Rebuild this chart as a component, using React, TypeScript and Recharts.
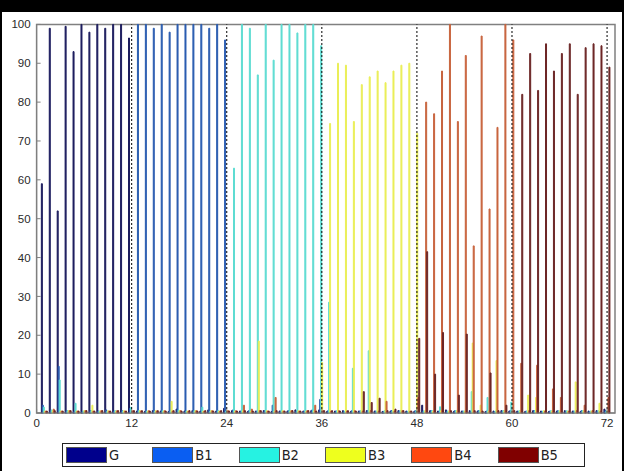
import { BarChart, Bar, XAxis, YAxis, ReferenceLine, ReferenceArea } from 'recharts';

// group numbers 1..72 along the x axis
const groups = Array.from({ length: 72 }, (_, i) => i + 1);

const seriesNames = ['G', 'B1', 'B2', 'B3', 'B4', 'B5'];

// G dominates groups 1-12, B1 13-24, B2 25-36, B3 37-48, B4 49-60, B5 61-72
const gValues = [
  59, 99, 52, 99.5, 93, 100, 98, 100, 99, 100, 100, 96.5,
  0.5, 0.4, 0.6, 0.5, 0.4, 1, 0.5, 0.6, 0.5, 0.8, 0.5, 1.2,
  0.6, 0.5, 0.4, 0.5, 0.6, 0.4, 0.5, 0.5, 0.8, 0.5, 0.6, 0.8,
  0.4, 0.5, 0.6, 0.4, 0.5, 0.6, 0.5, 0.4, 0.5, 0.6, 0.5, 0.4,
  2, 0.6, 0.5, 0.8, 0.4, 0.5, 0.6, 0.5, 0.4, 0.5, 0.6, 0.5,
  0.5, 0.4, 0.6, 0.5, 0.4, 0.5, 0.6, 0.5, 0.4, 0.5, 0.6, 1,
];
const b1Values = [
  2, 0.5, 12, 0.6, 0.5, 0.4, 0.6, 0.5, 0.8, 0.5, 0.6, 1.2,
  100, 100, 99, 100, 98, 100, 100, 100, 100, 99, 100, 96,
  0.8, 0.5, 0.6, 0.5, 0.6, 2, 0.5, 0.6, 0.5, 0.5, 0.8, 3.5,
  0.6, 0.5, 0.4, 0.6, 0.5, 0.6, 0.5, 0.4, 0.6, 0.5, 0.4, 0.6,
  0.5, 0.6, 0.4, 0.5, 0.6, 0.5, 0.4, 0.6, 0.5, 0.4, 0.5, 0.6,
  0.4, 0.5, 0.6, 0.4, 0.5, 0.6, 0.4, 0.5, 0.6, 0.4, 0.5, 0.6,
];
const b2Values = [
  1.5, 0.8, 8.5, 0.6, 2.5, 0.5, 0.6, 0.5, 0.4, 0.6, 0.5, 1.5,
  0.6, 0.5, 0.4, 0.6, 0.5, 0.8, 0.5, 0.6, 1.5, 0.5, 0.6, 0.5,
  63, 100, 99, 87, 100, 90.8, 100, 100, 97.8, 100, 100, 94.5,
  28.5, 0.6, 0.5, 11.5, 0.6, 16, 0.5, 0.6, 0.5, 0.6, 0.5, 0.6,
  0.5, 0.6, 1.6, 0.5, 0.6, 0.5, 5.5, 0.6, 4, 0.5, 0.6, 2.8,
  0.6, 0.5, 0.6, 0.5, 0.6, 0.5, 0.6, 0.5, 0.6, 0.5, 0.6, 0.5,
];
const b3Values = [
  0.5, 0.6, 0.5, 0.6, 0.5, 0.6, 2, 0.5, 0.6, 0.5, 0.6, 0.5,
  0.6, 0.5, 0.6, 0.5, 3, 0.6, 0.5, 0.6, 0.5, 0.6, 0.5, 0.6,
  0.5, 0.6, 0.5, 18.5, 0.6, 0.5, 0.6, 0.5, 0.6, 0.5, 0.6, 13,
  74.5, 90, 89.5, 75, 84.5, 86.5, 88, 85, 88, 89.5, 90, 72,
  0.6, 0.5, 0.6, 0.5, 0.6, 0.5, 18, 2, 0.5, 13.5, 0.6, 0.5,
  0.6, 4.6, 4, 0.6, 0.5, 0.6, 0.5, 8, 0.6, 0.5, 2.5, 0.6,
];
const b4Values = [
  0.5, 1, 0.5, 0.6, 0.5, 0.6, 0.5, 0.6, 0.5, 0.6, 0.5, 0.6,
  0.5, 0.6, 0.5, 0.6, 0.5, 0.6, 0.5, 0.6, 0.5, 0.6, 0.5, 0.6,
  0.6, 2, 1, 0.6, 0.5, 4, 0.5, 0.6, 0.5, 0.6, 2, 0.6,
  0.5, 0.6, 0.5, 0.6, 0.5, 0.6, 0.5, 3, 0.5, 0.6, 0.5, 4,
  80, 77, 88, 100, 75, 92, 43, 97, 52.5, 73.5, 100, 96,
  12.8, 0.6, 12.3, 0.5, 6.2, 4, 0.5, 0.6, 2, 0.6, 0.5, 4,
];
const b5Values = [
  0.5, 0.6, 0.5, 0.6, 0.5, 0.6, 0.5, 0.6, 0.5, 0.6, 0.5, 0.6,
  0.6, 0.5, 0.6, 0.5, 0.6, 0.5, 0.6, 0.5, 0.6, 0.5, 0.6, 0.5,
  0.5, 0.6, 0.5, 0.6, 0.5, 0.6, 0.5, 0.6, 0.5, 0.6, 0.5, 0.6,
  0.6, 0.5, 0.6, 0.5, 5.5, 2.7, 3.8, 0.6, 1, 0.6, 0.5, 19.2,
  41.5, 10, 20.7, 0.6, 4.6, 20.3, 0.6, 0.5, 10.3, 0.6, 2, 0.6,
  82, 92.5, 83, 95, 88, 92.5, 95, 82, 94, 95, 94.5, 89,
];

const xTicks = [0, 12, 24, 36, 48, 60, 72];
const yTicks = [0, 10, 20, 30, 40, 50, 60, 70, 80, 90, 100];
const dividers = [12, 24, 36, 48, 60, 72];

// thin bars look darker/lighter than the legend swatches in the original
const barColors = ['#1c1c5e', '#2a5cb0', '#5edcd2', '#eaee58', '#c8643e', '#6c2626'];
const legendColors = ['#00008c', '#0a5ef2', '#26f2e2', '#eeff1e', '#ff4810', '#800000'];

const allValues = [gValues, b1Values, b2Values, b3Values, b4Values, b5Values];

const data = groups.map((g, i) => {
  const row: Record<string, number> = { x: g };
  seriesNames.forEach((name, s) => {
    row[name] = allValues[s][i];
  });
  return row;
});

const tickStyle = { fill: '#2a2a2a', fontSize: 11.5, fontFamily: 'Liberation Sans, Arial, sans-serif' };

const App = () => {
  return (
    <div style={{ position: 'absolute', left: 0, top: 0, width: 624, height: 471, background: '#fff' }}>
      <BarChart
        width={624}
        height={440}
        data={data}
        margin={{ top: 24.4, right: 9, left: 6.6, bottom: 7 }}
        barGap={0}
        barCategoryGap="10%"
      >
        <XAxis
          dataKey="x"
          type="number"
          domain={[0, 73]}
          ticks={xTicks}
          interval={0}
          allowDataOverflow
          tickSize={-4}
          tickMargin={10}
          height={20}
          stroke="#7f7f7f"
          tick={tickStyle}
        />
        <YAxis
          domain={[0, 100]}
          ticks={yTicks}
          interval={0}
          tickSize={-4}
          tickMargin={10}
          width={30}
          stroke="#7f7f7f"
          tick={tickStyle}
        />
        <YAxis
          yAxisId="right"
          orientation="right"
          domain={[0, 100]}
          ticks={yTicks}
          interval={0}
          tickSize={-4}
          width={0}
          stroke="#7f7f7f"
          tickFormatter={() => ''}
        />
        {seriesNames.map((name, s) => (
          <Bar
            key={name}
            dataKey={name}
            fill={barColors[s]}
            stroke={barColors[s]}
            strokeWidth={1}
            isAnimationActive={false}
          />
        ))}
        {dividers.map((d) => (
          <ReferenceLine key={d} x={d} stroke="#000" strokeDasharray="2 2" strokeWidth={1} />
        ))}
        <ReferenceArea x1={0} x2={73} y1={0} y2={100} fill="none" stroke="#808080" strokeWidth={1.5} />
      </BarChart>
      <div
        style={{
          position: 'absolute',
          left: 62,
          top: 443,
          width: 523,
          height: 24,
          border: '1px solid #222',
          boxSizing: 'border-box',
          display: 'flex',
          alignItems: 'center',
          paddingLeft: 3,
          fontFamily: 'DejaVu Sans Condensed, Liberation Sans Narrow, sans-serif',
          fontSize: 14.5,
          color: '#222',
        }}
      >
        {seriesNames.map((name, s) => (
          <div key={name} style={{ width: 87.5, display: 'flex', alignItems: 'center' }}>
            <div
              style={{
                width: 41,
                height: 16,
                background: legendColors[s],
                border: '1px solid #555',
                boxSizing: 'border-box',
                marginRight: 2,
              }}
            />
            <span>{name}</span>
          </div>
        ))}
      </div>
      <div
        style={{
          position: 'absolute',
          left: 0,
          top: 0,
          width: 624,
          height: 471,
          boxSizing: 'border-box',
          borderTop: '12px solid #000',
          borderLeft: '2px solid #000',
          borderRight: '2px solid #000',
          pointerEvents: 'none',
        }}
      />
    </div>
  );
};

export default App;
